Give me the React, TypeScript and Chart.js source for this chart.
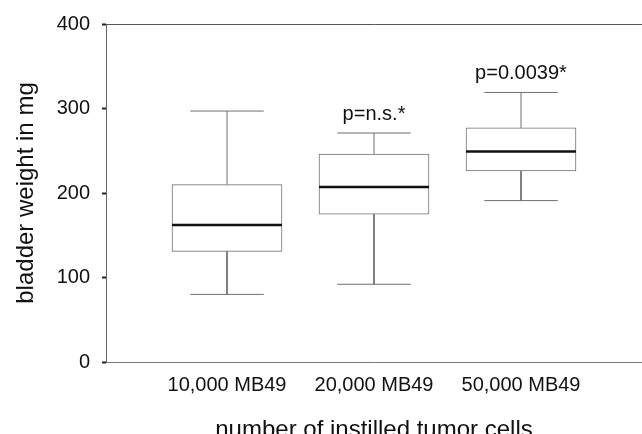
import React, { useEffect, useRef } from "react";
import { Chart, registerables } from "chart.js";

Chart.register(...registerables);

// ---- data ----
const categories = ["10,000 MB49", "20,000 MB49", "50,000 MB49"];
const positions = [1, 2, 3];
const minValues = [80, 92, 191];
const q1Values = [131, 175, 226];
const medianValues = [162, 207, 249];
const q3Values = [210, 246, 277];
const maxValues = [297, 271, 319];
const pLabels = ["", "p=n.s.*", "p=0.0039*"];
const yTicks = [0, 100, 200, 300, 400];

const FONT = "'Liberation Sans', Arial, Helvetica, sans-serif";
const BOX_HALF = 0.374;
const CAP_HALF = 0.25;
const LINE = "#6f6f6f";

export default function App() {
  const ref = useRef<HTMLCanvasElement>(null);

  useEffect(() => {
    if (!ref.current) return;

    const seg = (pts: { x: number; y: number }[], color: string, width: number, order: number) => ({
      type: "line" as const,
      data: pts,
      borderColor: color,
      borderWidth: width,
      pointRadius: 0,
      fill: false,
      tension: 0,
      order,
    });

    const lineSets: any[] = [];
    positions.forEach((c, i) => {
      lineSets.push(seg([{ x: c, y: q3Values[i] }, { x: c, y: maxValues[i] }], LINE, 1, 5));
      lineSets.push(seg([{ x: c, y: q1Values[i] }, { x: c, y: minValues[i] }], LINE, 1, 5));
      lineSets.push(seg([{ x: c - CAP_HALF, y: maxValues[i] }, { x: c + CAP_HALF, y: maxValues[i] }], LINE, 1, 5));
      lineSets.push(seg([{ x: c - CAP_HALF, y: minValues[i] }, { x: c + CAP_HALF, y: minValues[i] }], LINE, 1, 5));
      lineSets.push(seg([{ x: c - BOX_HALF, y: medianValues[i] }, { x: c + BOX_HALF, y: medianValues[i] }], "#111", 2.5, 0));
    });

    const annotate = {
      id: "pLabels",
      afterDatasetsDraw(chart: any) {
        const { ctx, scales } = chart;
        ctx.save();
        ctx.font = `20px ${FONT}`;
        ctx.fillStyle = "#111";
        ctx.textAlign = "center";
        ctx.textBaseline = "alphabetic";
        positions.forEach((c, i) => {
          if (!pLabels[i]) return;
          ctx.fillText(pLabels[i], scales.x.getPixelForValue(c), scales.y.getPixelForValue(maxValues[i]) - 13);
        });
        ctx.restore();
      },
    };

    const chart = new Chart(ref.current, {
      type: "bar",
      data: {
        datasets: [
          {
            type: "bar",
            data: positions.map((c, i) => ({ x: c, y: [q1Values[i], q3Values[i]] })) as any,
            backgroundColor: "#ffffff",
            borderColor: LINE,
            borderWidth: 1,
            borderSkipped: false,
            barThickness: 110,
            grouped: false,
            order: 10,
          } as any,
          ...lineSets,
        ],
      },
      options: {
        animation: false,
        responsive: false,
        devicePixelRatio: 1,
        layout: { padding: { top: 21, right: 0, bottom: 0, left: 0 } },
        plugins: { legend: { display: false }, tooltip: { enabled: false } },
        scales: {
          x: {
            type: "linear",
            offset: false,
            min: 1 - 121 / 147,
            max: 3 + 121 / 147,
            afterBuildTicks: (s: any) => {
              s.ticks = positions.map((v) => ({ value: v }));
            },
            afterFit: (s: any) => {
              s.height = 72;
            },
            ticks: {
              callback: (v: any) => {
                const idx = positions.indexOf(Number(v));
                return idx >= 0 ? categories[idx] : "";
              },
              font: { family: FONT, size: 20 },
              color: "#111",
              padding: 3,
              maxRotation: 0,
              autoSkip: false,
            },
            grid: { display: false },
            border: { display: true, color: "#777", width: 1 },
            title: {
              display: true,
              text: "number of instilled tumor cells",
              font: { family: FONT, size: 24 },
              color: "#111",
              padding: { top: 0, bottom: -11 },
            },
          },
          y: {
            type: "linear",
            min: 0,
            max: 400,
            afterBuildTicks: (s: any) => {
              s.ticks = yTicks.map((v) => ({ value: v }));
            },
            afterFit: (s: any) => {
              s.width = 106;
            },
            ticks: {
              font: { family: FONT, size: 20 },
              color: "#111",
              padding: 12,
            },
            grid: {
              drawOnChartArea: true,
              color: (ctx: any) => (ctx.tick && ctx.tick.value === 400 ? "#555" : "rgba(0,0,0,0)"),
              tickColor: "#222",
              tickLength: 4,
              tickWidth: 2,
            },
            border: { display: true, color: "#666", width: 1 },
            title: {
              display: true,
              text: "bladder weight in mg",
              font: { family: FONT, size: 24 },
              color: "#111",
              padding: { top: 12, bottom: 0 },
            },
          },
        },
      },
      plugins: [annotate],
    });

    return () => chart.destroy();
  }, []);

  return (
    <div style={{ position: "absolute", left: 0, top: 0, width: 642, height: 434, background: "#fff" }}>
      <canvas ref={ref} width={642} height={434} />
    </div>
  );
}
